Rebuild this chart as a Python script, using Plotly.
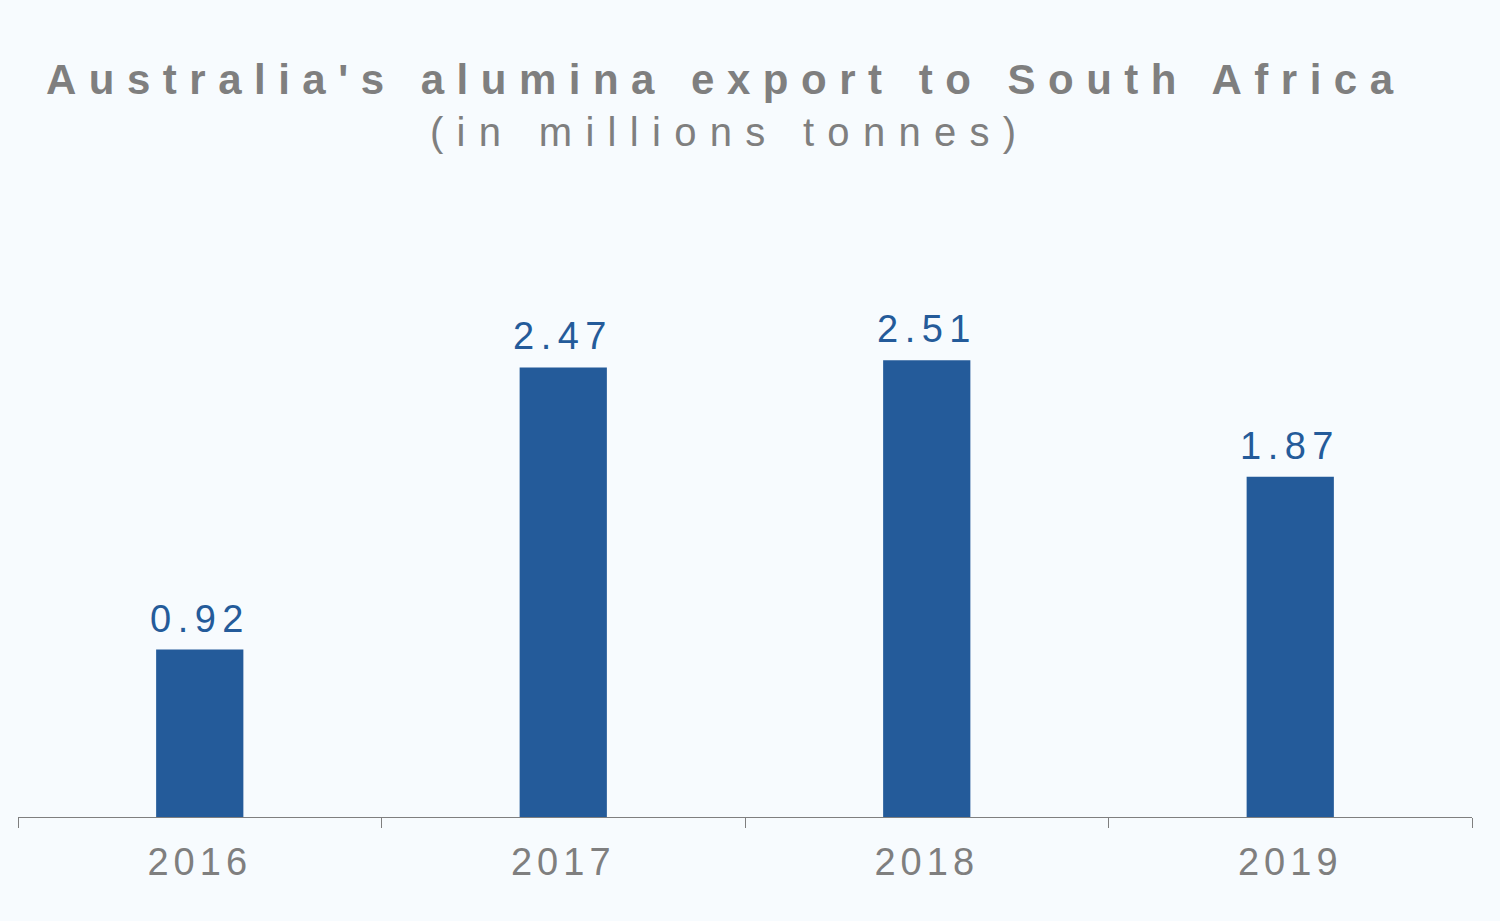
import plotly.graph_objects as go

years = ["2016", "2017", "2018", "2019"]
exports = [0.92, 2.47, 2.51, 1.87]
labels = ["0.92", "2.47", "2.51", "1.87"]

BG = "#F7FBFE"
BAR = "#245B9A"
GREY = "#7F7F7F"
FONT = "Liberation Sans, Arial, sans-serif"


def spaced(s, px):
    return f'<span style="letter-spacing:{px}px">{s}</span>'


fig = go.Figure()
fig.add_trace(go.Bar(
    x=years,
    y=exports,
    marker=dict(color=BAR, line=dict(width=0)),
    hoverinfo="skip",
))

# value labels placed on the category axis by category index
value_labels = [
    dict(
        x=i, y=v, xref="x", yref="y",
        text=spaced(t, 6.5),
        showarrow=False,
        xanchor="center", yanchor="bottom",
        yshift=8,
        font=dict(family=FONT, size=38, color=BAR),
    )
    for i, (v, t) in enumerate(zip(exports, labels))
]

fig.update_layout(
    width=1500,
    height=921,
    paper_bgcolor=BG,
    plot_bgcolor=BG,
    margin=dict(l=18, r=28, t=180, b=104),
    bargap=0.76,
    showlegend=False,
    xaxis=dict(
        type="category",
        categoryorder="array",
        categoryarray=years,
        tickmode="array",
        tickvals=years,
        ticktext=[spaced(y, 5) for y in years],
        tickfont=dict(family=FONT, size=38, color=GREY),
        tickangle=0,
        ticklabelstandoff=11,
        showline=True,
        linecolor=GREY,
        linewidth=1,
        ticks="outside",
        tickson="boundaries",
        ticklen=10,
        tickcolor=GREY,
        showgrid=False,
        zeroline=False,
    ),
    yaxis=dict(
        range=[0, 3.5],
        visible=False,
        showgrid=False,
        zeroline=False,
    ),
    annotations=value_labels + [
        dict(
            text="<b>" + spaced("Australia's alumina export to South Africa", 12.5) + "</b>",
            xref="paper", yref="paper",
            x=(726 - 18) / 1454, y=1 + (180 - 105) / 637,
            xanchor="center", yanchor="bottom",
            showarrow=False,
            font=dict(family=FONT, size=42, color=GREY),
        ),
        dict(
            text=spaced("(in millions tonnes)", 13.3),
            xref="paper", yref="paper",
            x=(729 - 18) / 1454, y=1 + (180 - 156) / 637,
            xanchor="center", yanchor="bottom",
            showarrow=False,
            font=dict(family=FONT, size=40, color=GREY),
        ),
    ],
)

fig.write_html("out.html")
